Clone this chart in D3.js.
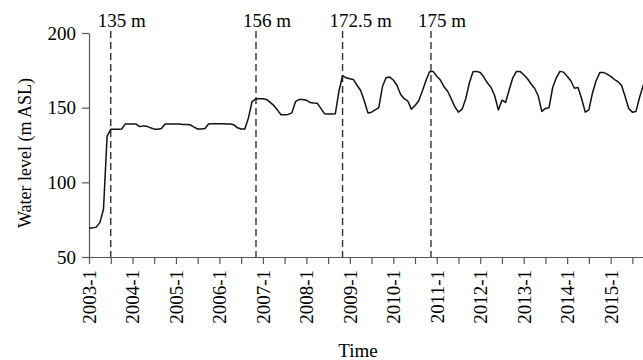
<!DOCTYPE html>
<html>
<head>
<meta charset="utf-8">
<script src="https://cdn.jsdelivr.net/npm/d3@7/dist/d3.min.js"></script>
<style>
  html, body { margin: 0; padding: 0; background: #fff; }
  svg { display: block; overflow: hidden; }
  text { font-family: "Liberation Serif", "Times New Roman", serif; fill: #000; }
</style>
</head>
<body>
<svg id="chart" width="643" height="360"></svg>
<script>
// Monthly reservoir water level (m ASL), starting 2003-1
const startYear = 2003;
const levels = [
  69.5, 69.5, 70, 73, 82, 131, 135.5, 135.5, 135.5, 135.7, 139, 139,
  139, 139, 137.3, 137.8, 137.5, 136.5, 135.6, 135.6, 136, 139, 139, 139,
  139, 139, 138.8, 138.8, 138.5, 137, 135.7, 135.7, 136, 139, 139.2, 139.3,
  139.3, 139.3, 139, 139, 138.5, 136.5, 135.7, 135.7, 143, 154, 155.8, 156,
  156, 155.5, 153.5, 151.5, 148.5, 145.3, 145.3, 145.5, 146.5, 154, 155.5, 155.4,
  155, 153.5, 153.2, 153, 149.5, 146, 145.7, 145.7, 146, 161, 171.5, 170,
  169.3, 168.8, 165, 161.5, 154.5, 146.5, 147, 148.5, 150, 164, 170, 170.5,
  168.5, 165, 159, 156, 154.5, 149, 151.5, 154.5, 161, 168, 174, 174.3,
  171, 168.5, 164, 161, 156, 150.5, 147, 149, 156, 166.5, 174, 174.3,
  173.5, 170.5, 166.5, 163.5, 158, 148.5, 155, 153.5, 162, 170, 174.3, 174.3,
  172, 169.5, 166, 163, 158, 147.5, 149.5, 150, 163.5, 170, 174.3, 173.8,
  171, 168, 163, 163.5, 156, 147, 148.5, 160, 168, 173.5, 173.6, 172.5,
  171, 169, 167.5, 165, 157.5, 149.5, 147, 147.5, 157, 165, 172
];

// Impoundment stages: month offset from 2003-1 and stage label
const stageMonths = [6, 46.1, 70, 94.4];
const stageLabels = ["135 m", "156 m", "172.5 m", "175 m"];

// Axis ticks
const yTicks = [50, 100, 150, 200];
const tickYears = d3.range(2003, 2016);

const svg = d3.select("#chart");
const margin = { left: 89, top: 33, bottom: 257 };

const x = d3.scaleLinear().domain([0, 156]).range([margin.left, 654.1]);
const y = d3.scaleLinear().domain([50, 200]).range([margin.bottom, margin.top]);

// Y axis
const yAxis = svg.append("g")
  .attr("transform", `translate(${margin.left},0)`)
  .call(d3.axisLeft(y).tickValues(yTicks).tickSize(7).tickPadding(6).tickSizeOuter(0));
yAxis.select(".domain").attr("stroke", "#555").attr("stroke-width", 1.2);
yAxis.selectAll(".tick line").attr("stroke", "#555").attr("stroke-width", 1.2);
yAxis.selectAll(".tick text")
  .attr("font-size", 19)
  .attr("font-family", "Liberation Serif, Times New Roman, serif")
  .attr("fill", "#000");

// X axis: ticks every 6 months, labels on each January
const xTickVals = d3.range(0, 157, 6);
const xAxis = svg.append("g")
  .attr("transform", `translate(0,${margin.bottom})`)
  .call(d3.axisBottom(x).tickValues(xTickVals).tickSize(7).tickSizeOuter(0)
    .tickFormat(m => (m % 12 === 0 && tickYears.includes(startYear + m / 12)) ? `${startYear + m / 12}-1` : ""));
xAxis.select(".domain").attr("stroke", "#555").attr("stroke-width", 1.2);
xAxis.selectAll(".tick line").attr("stroke", "#555").attr("stroke-width", 1.2);
xAxis.selectAll(".tick text")
  .attr("font-size", 19)
  .attr("font-family", "Liberation Serif, Times New Roman, serif")
  .attr("fill", "#000")
  .attr("text-anchor", "end")
  .attr("dominant-baseline", "central")
  .attr("transform", "rotate(-90)")
  .attr("x", -13)
  .attr("y", 0)
  .attr("dy", null);

// Stage markers
const stages = stageMonths.map((m, i) => ({ m, label: stageLabels[i] }));
svg.append("g").selectAll("line")
  .data(stages).join("line")
  .attr("x1", d => x(d.m)).attr("x2", d => x(d.m))
  .attr("y1", 31).attr("y2", margin.bottom)
  .attr("stroke", "#333").attr("stroke-width", 1.4)
  .attr("stroke-dasharray", "7,4");
svg.append("g").selectAll("text")
  .data(stages).join("text")
  .attr("x", d => x(d.m) - 13)
  .attr("y", 27)
  .attr("font-size", 19)
  .text(d => d.label);

// Water level line
const line = d3.line()
  .x((d, i) => x(i))
  .y(d => y(d));
svg.append("path")
  .datum(levels)
  .attr("fill", "none")
  .attr("stroke", "#111")
  .attr("stroke-width", 1.5)
  .attr("stroke-linejoin", "round")
  .attr("d", line);

// Axis titles
svg.append("text")
  .attr("transform", "translate(25,153) rotate(-90)")
  .attr("text-anchor", "middle")
  .attr("dominant-baseline", "central")
  .attr("font-size", 18)
  .text("Water level (m ASL)");

svg.append("text")
  .attr("x", 358)
  .attr("y", 357)
  .attr("text-anchor", "middle")
  .attr("font-size", 19)
  .text("Time");
</script>
</body>
</html>
